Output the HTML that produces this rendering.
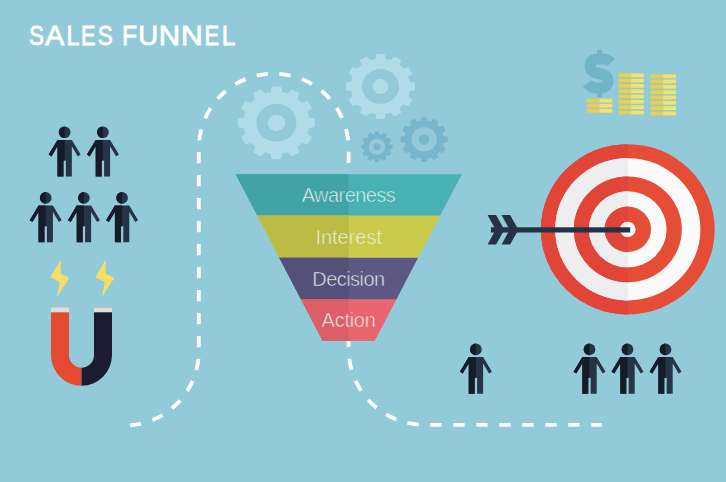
<!DOCTYPE html>
<html><head><meta charset="utf-8"><style>
html,body{margin:0;padding:0;background:#93cad9;}
svg{display:block;}
.title{font-family:"Liberation Sans",sans-serif;font-size:28px;fill:#ffffff;stroke:#ffffff;stroke-width:0.8px;}
.fl{font-family:"Liberation Sans",sans-serif;font-size:20px;fill:#f2f7f5;fill-opacity:0.95;stroke-width:0.55px;text-anchor:middle;}
.dol{font-family:"Liberation Sans",sans-serif;font-weight:bold;font-size:52px;fill:#72b4c8;text-anchor:middle;}
</style></head><body>
<svg width="726" height="482" viewBox="0 0 726 482">
<defs>
<clipPath id="clipL"><rect x="0" y="0" width="348.70" height="482"/></clipPath><clipPath id="clipR"><rect x="348.70" y="0" width="400" height="482"/></clipPath>
<path id="pl" d="M0,0.2 A5.85,5.85 0 0 0 0,11.9 Z M0,13.7 L-7.2,13.7 L-16.0,28.3 L-13.2,30.2 L-7.2,20.1 L-7.2,50.3 L-1.2,50.3 L-1.2,34.3 L0,34.3 Z" fill="#161b2a"/>
<g id="pr"><circle cx="0" cy="6.05" r="5.85" fill="#263447"/><path d="M-7.2,13.7 L7.2,13.7 L16.0,28.3 L13.2,30.2 L7.2,20.1 L7.2,50.3 L1.2,50.3 L1.2,34.3 L-1.2,34.3 L-1.2,50.3 L-7.2,50.3 L-7.2,20.1 L-13.2,30.2 L-16.0,28.3 Z" fill="#263447"/></g>
</defs>
<rect width="726" height="482" fill="#93cad9"/><g transform="translate(276.40,122.80) scale(1.055,1)"><path d="M-5.38,-30.83 L-4.21,-36.36 L4.21,-36.36 L5.38,-30.83 A31.30,31.30 0 0 1 10.76,-29.39 L14.54,-33.59 L21.82,-29.38 L20.08,-24.01 A31.30,31.30 0 0 1 24.01,-20.08 L29.38,-21.82 L33.59,-14.54 L29.39,-10.76 A31.30,31.30 0 0 1 30.83,-5.38 L36.36,-4.21 L36.36,4.21 L30.83,5.38 A31.30,31.30 0 0 1 29.39,10.76 L33.59,14.54 L29.38,21.82 L24.01,20.08 A31.30,31.30 0 0 1 20.08,24.01 L21.82,29.38 L14.54,33.59 L10.76,29.39 A31.30,31.30 0 0 1 5.38,30.83 L4.21,36.36 L-4.21,36.36 L-5.38,30.83 A31.30,31.30 0 0 1 -10.76,29.39 L-14.54,33.59 L-21.82,29.38 L-20.08,24.01 A31.30,31.30 0 0 1 -24.01,20.08 L-29.38,21.82 L-33.59,14.54 L-29.39,10.76 A31.30,31.30 0 0 1 -30.83,5.38 L-36.36,4.21 L-36.36,-4.21 L-30.83,-5.38 A31.30,31.30 0 0 1 -29.39,-10.76 L-33.59,-14.54 L-29.38,-21.82 L-24.01,-20.08 A31.30,31.30 0 0 1 -20.08,-24.01 L-21.82,-29.38 L-14.54,-33.59 L-10.76,-29.39 A31.30,31.30 0 0 1 -5.38,-30.83 Z" fill="#afdce8"/><circle cx="0" cy="0" r="19.00" fill="#93c9d9"/><circle cx="0" cy="0" r="8.20" fill="#afdce8"/></g><g transform="translate(380.50,86.50) scale(1.060,1)"><path d="M-4.80,-27.48 L-3.77,-32.58 L3.77,-32.58 L4.80,-27.48 A27.90,27.90 0 0 1 9.59,-26.20 L13.03,-30.10 L19.56,-26.33 L17.90,-21.40 A27.90,27.90 0 0 1 21.40,-17.90 L26.33,-19.56 L30.10,-13.03 L26.20,-9.59 A27.90,27.90 0 0 1 27.48,-4.80 L32.58,-3.77 L32.58,3.77 L27.48,4.80 A27.90,27.90 0 0 1 26.20,9.59 L30.10,13.03 L26.33,19.56 L21.40,17.90 A27.90,27.90 0 0 1 17.90,21.40 L19.56,26.33 L13.03,30.10 L9.59,26.20 A27.90,27.90 0 0 1 4.80,27.48 L3.77,32.58 L-3.77,32.58 L-4.80,27.48 A27.90,27.90 0 0 1 -9.59,26.20 L-13.03,30.10 L-19.56,26.33 L-17.90,21.40 A27.90,27.90 0 0 1 -21.40,17.90 L-26.33,19.56 L-30.10,13.03 L-26.20,9.59 A27.90,27.90 0 0 1 -27.48,4.80 L-32.58,3.77 L-32.58,-3.77 L-27.48,-4.80 A27.90,27.90 0 0 1 -26.20,-9.59 L-30.10,-13.03 L-26.33,-19.56 L-21.40,-17.90 A27.90,27.90 0 0 1 -17.90,-21.40 L-19.56,-26.33 L-13.03,-30.10 L-9.59,-26.20 A27.90,27.90 0 0 1 -4.80,-27.48 Z" fill="#afdce8"/><circle cx="0" cy="0" r="17.40" fill="#93c9d9"/><circle cx="0" cy="0" r="7.60" fill="#afdce8"/></g><g transform="translate(424.10,139.40) scale(1.040,1)"><path d="M-3.20,-18.93 L-2.86,-22.62 L2.86,-22.62 L3.20,-18.93 A19.20,19.20 0 0 1 6.69,-18.00 L8.84,-21.02 L13.78,-18.16 L12.24,-14.79 A19.20,19.20 0 0 1 14.79,-12.24 L18.16,-13.78 L21.02,-8.84 L18.00,-6.69 A19.20,19.20 0 0 1 18.93,-3.20 L22.62,-2.86 L22.62,2.86 L18.93,3.20 A19.20,19.20 0 0 1 18.00,6.69 L21.02,8.84 L18.16,13.78 L14.79,12.24 A19.20,19.20 0 0 1 12.24,14.79 L13.78,18.16 L8.84,21.02 L6.69,18.00 A19.20,19.20 0 0 1 3.20,18.93 L2.86,22.62 L-2.86,22.62 L-3.20,18.93 A19.20,19.20 0 0 1 -6.69,18.00 L-8.84,21.02 L-13.78,18.16 L-12.24,14.79 A19.20,19.20 0 0 1 -14.79,12.24 L-18.16,13.78 L-21.02,8.84 L-18.00,6.69 A19.20,19.20 0 0 1 -18.93,3.20 L-22.62,2.86 L-22.62,-2.86 L-18.93,-3.20 A19.20,19.20 0 0 1 -18.00,-6.69 L-21.02,-8.84 L-18.16,-13.78 L-14.79,-12.24 A19.20,19.20 0 0 1 -12.24,-14.79 L-13.78,-18.16 L-8.84,-21.02 L-6.69,-18.00 A19.20,19.20 0 0 1 -3.20,-18.93 Z" fill="#78b7cb"/><circle cx="0" cy="0" r="12.20" fill="#93c9d9"/><circle cx="0" cy="0" r="5.20" fill="#78b7cb"/></g><g transform="translate(377.00,146.70) scale(1.030,1)"><path d="M-2.17,-12.82 L-1.93,-15.28 L1.93,-15.28 L2.17,-12.82 A13.00,13.00 0 0 1 4.53,-12.18 L5.97,-14.20 L9.31,-12.27 L8.29,-10.02 A13.00,13.00 0 0 1 10.02,-8.29 L12.27,-9.31 L14.20,-5.97 L12.18,-4.53 A13.00,13.00 0 0 1 12.82,-2.17 L15.28,-1.93 L15.28,1.93 L12.82,2.17 A13.00,13.00 0 0 1 12.18,4.53 L14.20,5.97 L12.27,9.31 L10.02,8.29 A13.00,13.00 0 0 1 8.29,10.02 L9.31,12.27 L5.97,14.20 L4.53,12.18 A13.00,13.00 0 0 1 2.17,12.82 L1.93,15.28 L-1.93,15.28 L-2.17,12.82 A13.00,13.00 0 0 1 -4.53,12.18 L-5.97,14.20 L-9.31,12.27 L-8.29,10.02 A13.00,13.00 0 0 1 -10.02,8.29 L-12.27,9.31 L-14.20,5.97 L-12.18,4.53 A13.00,13.00 0 0 1 -12.82,2.17 L-15.28,1.93 L-15.28,-1.93 L-12.82,-2.17 A13.00,13.00 0 0 1 -12.18,-4.53 L-14.20,-5.97 L-12.27,-9.31 L-10.02,-8.29 A13.00,13.00 0 0 1 -8.29,-10.02 L-9.31,-12.27 L-5.97,-14.20 L-4.53,-12.18 A13.00,13.00 0 0 1 -2.17,-12.82 Z" fill="#78b7cb"/><circle cx="0" cy="0" r="8.00" fill="#93c9d9"/><circle cx="0" cy="0" r="3.40" fill="#78b7cb"/></g><path d="M130,425.3 A74.5,74.5 0 0 0 198.8,354.5 L198.8,148.5 A74.9,74.9 0 0 1 348.6,148.5 L348.6,348.9 A76,76 0 0 0 424.6,424.9 L601.7,424.9" fill="none" stroke="#ffffff" stroke-width="3.8" stroke-dasharray="11.3 11.7"/><polygon points="235.70,174.30 461.70,174.30 439.93,216.00 257.47,216.00" fill="#47b1b4"/><polygon points="235.70,174.30 348.70,174.30 348.70,216.00 257.47,216.00" fill="#42a3a7"/><polygon points="257.15,215.40 440.25,215.40 417.80,258.40 279.60,258.40" fill="#cbca4c"/><polygon points="257.15,215.40 348.70,215.40 348.70,258.40 279.60,258.40" fill="#bcbb45"/><polygon points="279.29,257.80 418.11,257.80 396.19,299.80 301.21,299.80" fill="#5d5783"/><polygon points="279.29,257.80 348.70,257.80 348.70,299.80 301.21,299.80" fill="#555079"/><polygon points="300.90,299.20 396.50,299.20 374.68,341.00 322.72,341.00" fill="#e9656f"/><polygon points="300.90,299.20 348.70,299.20 348.70,341.00 322.72,341.00" fill="#dc5e69"/><text x="348.70" y="202.40" class="fl" textLength="94.0" lengthAdjust="spacing" clip-path="url(#clipL)" stroke="#42a3a7">Awareness</text><text x="348.70" y="202.40" class="fl" textLength="94.0" lengthAdjust="spacing" clip-path="url(#clipR)" stroke="#47b1b4">Awareness</text><text x="348.70" y="244.30" class="fl" textLength="66.5" lengthAdjust="spacing" clip-path="url(#clipL)" stroke="#bcbb45">Interest</text><text x="348.70" y="244.30" class="fl" textLength="66.5" lengthAdjust="spacing" clip-path="url(#clipR)" stroke="#cbca4c">Interest</text><text x="348.70" y="285.80" class="fl" textLength="72.7" lengthAdjust="spacing" clip-path="url(#clipL)" stroke="#555079">Decision</text><text x="348.70" y="285.80" class="fl" textLength="72.7" lengthAdjust="spacing" clip-path="url(#clipR)" stroke="#5d5783">Decision</text><text x="348.70" y="327.20" class="fl" textLength="54.2" lengthAdjust="spacing" clip-path="url(#clipL)" stroke="#dc5e69">Action</text><text x="348.70" y="327.20" class="fl" textLength="54.2" lengthAdjust="spacing" clip-path="url(#clipR)" stroke="#e9656f">Action</text><text transform="translate(29.03,44.85) scale(0.803,1)" class="title">S</text><text transform="translate(45.14,44.85) scale(1.023,1)" class="title">A</text><text transform="translate(66.40,44.85) scale(0.826,1)" class="title">L</text><text transform="translate(81.11,44.85) scale(0.778,1)" class="title">E</text><text transform="translate(97.87,44.85) scale(0.806,1)" class="title">S</text><text transform="translate(121.97,44.85) scale(0.884,1)" class="title">F</text><text transform="translate(138.37,44.85) scale(0.987,1)" class="title">U</text><text transform="translate(158.78,44.85) scale(1.055,1)" class="title">N</text><text transform="translate(180.93,44.85) scale(1.074,1)" class="title">N</text><text transform="translate(204.58,44.85) scale(0.791,1)" class="title">E</text><text transform="translate(221.79,44.85) scale(0.875,1)" class="title">L</text><use href="#pr" x="64.65" y="126.20"/><use href="#pl" x="64.65" y="126.20"/><use href="#pr" x="102.90" y="126.20"/><use href="#pl" x="102.90" y="126.20"/><use href="#pr" x="45.70" y="191.90"/><use href="#pl" x="45.70" y="191.90"/><use href="#pr" x="83.90" y="191.90"/><use href="#pl" x="83.90" y="191.90"/><use href="#pr" x="122.10" y="191.90"/><use href="#pl" x="122.10" y="191.90"/><use href="#pr" x="475.90" y="343.40"/><use href="#pl" x="475.90" y="343.40"/><use href="#pr" x="589.50" y="343.40"/><use href="#pl" x="589.50" y="343.40"/><use href="#pr" x="627.50" y="343.40"/><use href="#pl" x="627.50" y="343.40"/><use href="#pr" x="665.50" y="343.40"/><use href="#pl" x="665.50" y="343.40"/><polygon points="60.70,259.60 60.70,273.80 68.90,277.40 68.70,279.00 57.00,297.00 59.90,282.00 51.00,277.80 51.10,276.00" fill="#f5de62"/><polygon points="105.70,259.60 105.70,273.80 113.90,277.40 113.70,279.00 102.00,297.00 104.90,282.00 96.00,277.80 96.10,276.00" fill="#f5de62"/><path d="M51.00,307.20 L51.00,355.20 A30.50,30.50 0 0 0 81.50,385.70 L81.50,367.70 A12.50,12.50 0 0 1 69.00,355.20 L69.00,307.20 Z" fill="#e34a31"/><path d="M112.00,307.20 L112.00,355.20 A30.50,30.50 0 0 1 81.50,385.70 L81.50,367.70 A12.50,12.50 0 0 0 94.00,355.20 L94.00,307.20 Z" fill="#1b1c31"/><rect x="51.00" y="307.20" width="18.00" height="5.1" fill="#dcdcdc"/><rect x="94.00" y="307.20" width="18.00" height="5.1" fill="#dcdcdc"/><g transform="translate(0,4.59) scale(1,0.98)"><circle cx="627.80" cy="229.30" r="86.90" fill="#e54d36"/><path d="M627.80,142.40 A86.90,86.90 0 0 0 627.80,316.20 Z" fill="#e04537"/><circle cx="627.80" cy="229.30" r="72.60" fill="#fafafa"/><path d="M627.80,156.70 A72.60,72.60 0 0 0 627.80,301.90 Z" fill="#eeeef1"/><circle cx="627.80" cy="229.30" r="54.00" fill="#e54d36"/><path d="M627.80,175.30 A54.00,54.00 0 0 0 627.80,283.30 Z" fill="#e04537"/><circle cx="627.80" cy="229.30" r="38.80" fill="#fafafa"/><path d="M627.80,190.50 A38.80,38.80 0 0 0 627.80,268.10 Z" fill="#eeeef1"/><circle cx="627.80" cy="229.30" r="23.20" fill="#e54d36"/><path d="M627.80,206.10 A23.20,23.20 0 0 0 627.80,252.50 Z" fill="#e04537"/><circle cx="627.80" cy="229.30" r="7.80" fill="#fafafa"/><path d="M627.80,221.50 A7.80,7.80 0 0 0 627.80,237.10 Z" fill="#eeeef1"/></g><rect x="490.9" y="227.3" width="139.30" height="5.2" fill="#233244"/><polygon points="487.60,215.10 496.10,215.10 504.40,229.80 496.10,244.50 487.60,244.50 495.60,229.80" fill="#233244"/><polygon points="501.60,215.10 510.10,215.10 518.40,229.80 510.10,244.50 501.60,244.50 509.60,229.80" fill="#233244"/><path d="M611.0,62.6 C608.6,59.8 603.8,58.7 598.9,58.7 C592.6,58.7 590.1,61.8 590.1,66.2 C590.1,71.6 594.6,72.6 599.1,73.5 C603.8,74.4 608.0,75.8 608.0,80.8 C608.0,85.8 604.0,88.1 598.9,88.1 C593.6,88.1 589.6,86.6 587.4,83.2" fill="none" stroke="#72b4c8" stroke-width="11"/><rect x="597.0" y="49.9" width="5.2" height="5" fill="#72b4c8"/><rect x="597.0" y="92" width="5.2" height="5" fill="#72b4c8"/><rect x="586.70" y="98.70" width="12.80" height="3.80" fill="#e9cf4c"/><rect x="599.50" y="98.70" width="12.80" height="3.80" fill="#f5e26a"/><rect x="586.70" y="103.80" width="12.80" height="3.80" fill="#e9cf4c"/><rect x="599.50" y="103.80" width="12.80" height="3.80" fill="#f5e26a"/><rect x="586.70" y="108.90" width="12.80" height="3.80" fill="#e9cf4c"/><rect x="599.50" y="108.90" width="12.80" height="3.80" fill="#f5e26a"/><rect x="618.50" y="73.30" width="12.65" height="3.80" fill="#e9cf4c"/><rect x="631.15" y="73.30" width="12.65" height="3.80" fill="#f5e26a"/><rect x="618.50" y="78.62" width="12.65" height="3.80" fill="#e9cf4c"/><rect x="631.15" y="78.62" width="12.65" height="3.80" fill="#f5e26a"/><rect x="618.50" y="83.94" width="12.65" height="3.80" fill="#e9cf4c"/><rect x="631.15" y="83.94" width="12.65" height="3.80" fill="#f5e26a"/><rect x="618.50" y="89.26" width="12.65" height="3.80" fill="#e9cf4c"/><rect x="631.15" y="89.26" width="12.65" height="3.80" fill="#f5e26a"/><rect x="618.50" y="94.58" width="12.65" height="3.80" fill="#e9cf4c"/><rect x="631.15" y="94.58" width="12.65" height="3.80" fill="#f5e26a"/><rect x="618.50" y="99.90" width="12.65" height="3.80" fill="#e9cf4c"/><rect x="631.15" y="99.90" width="12.65" height="3.80" fill="#f5e26a"/><rect x="618.50" y="105.22" width="12.65" height="3.80" fill="#e9cf4c"/><rect x="631.15" y="105.22" width="12.65" height="3.80" fill="#f5e26a"/><rect x="618.50" y="110.54" width="12.65" height="3.80" fill="#e9cf4c"/><rect x="631.15" y="110.54" width="12.65" height="3.80" fill="#f5e26a"/><rect x="650.40" y="74.30" width="12.75" height="3.80" fill="#e9cf4c"/><rect x="663.15" y="74.30" width="12.75" height="3.80" fill="#f5e26a"/><rect x="650.40" y="79.62" width="12.75" height="3.80" fill="#e9cf4c"/><rect x="663.15" y="79.62" width="12.75" height="3.80" fill="#f5e26a"/><rect x="650.40" y="84.94" width="12.75" height="3.80" fill="#e9cf4c"/><rect x="663.15" y="84.94" width="12.75" height="3.80" fill="#f5e26a"/><rect x="650.40" y="90.26" width="12.75" height="3.80" fill="#e9cf4c"/><rect x="663.15" y="90.26" width="12.75" height="3.80" fill="#f5e26a"/><rect x="650.40" y="95.58" width="12.75" height="3.80" fill="#e9cf4c"/><rect x="663.15" y="95.58" width="12.75" height="3.80" fill="#f5e26a"/><rect x="650.40" y="100.90" width="12.75" height="3.80" fill="#e9cf4c"/><rect x="663.15" y="100.90" width="12.75" height="3.80" fill="#f5e26a"/><rect x="650.40" y="106.22" width="12.75" height="3.80" fill="#e9cf4c"/><rect x="663.15" y="106.22" width="12.75" height="3.80" fill="#f5e26a"/><rect x="650.40" y="111.54" width="12.75" height="3.80" fill="#e9cf4c"/><rect x="663.15" y="111.54" width="12.75" height="3.80" fill="#f5e26a"/>
</svg></body></html>
